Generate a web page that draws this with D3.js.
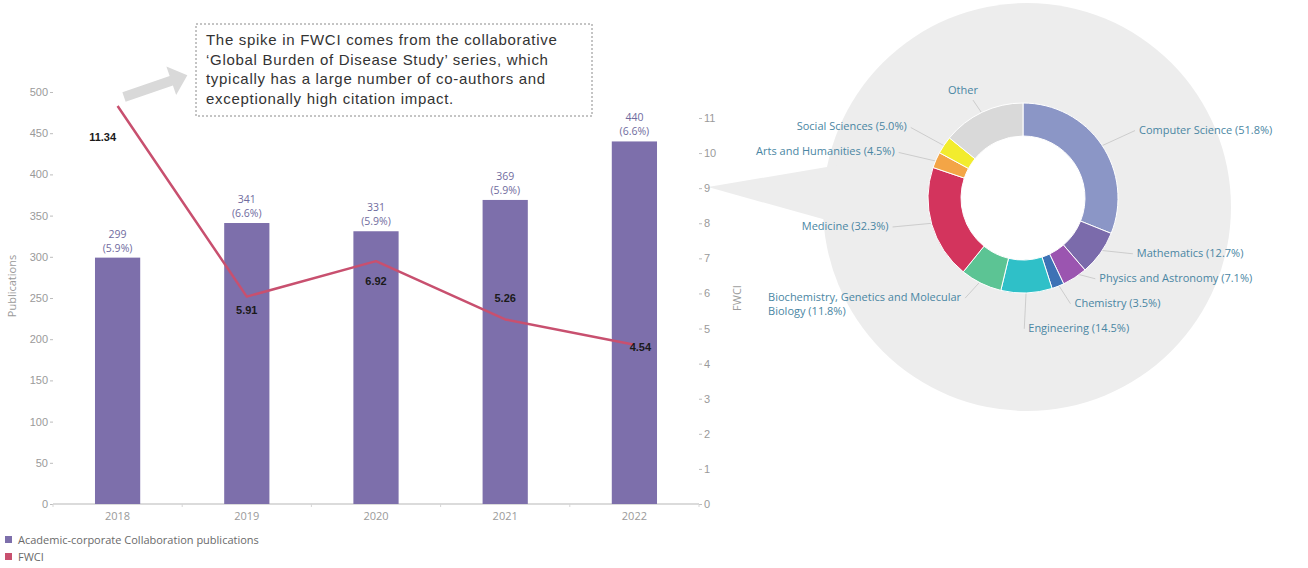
<!DOCTYPE html>
<html>
<head>
<meta charset="utf-8">
<script src="https://cdn.jsdelivr.net/npm/d3@7"></script>
<style>
    body { margin: 0; background: #ffffff; }
    svg { display: block; font-family: "Open Sans", sans-serif; }
</style>
</head>
<body>
<div id="chart"></div>
<script>
// ---- data ----
const years = ['2018', '2019', '2020', '2021', '2022'];
const publications = [299, 341, 331, 369, 440];
const publicationShares = ['5.9%', '6.6%', '5.9%', '5.9%', '6.6%'];
const fwci = [11.34, 5.91, 6.92, 5.26, 4.54];
const pubTicks = [0, 50, 100, 150, 200, 250, 300, 350, 400, 450, 500];
const fwciTicks = [0, 1, 2, 3, 4, 5, 6, 7, 8, 9, 10, 11];

const subjects = ['Computer Science', 'Mathematics', 'Physics and Astronomy', 'Chemistry', 'Engineering',
    'Biochemistry, Genetics and Molecular Biology', 'Medicine', 'Arts and Humanities', 'Social Sciences', 'Other'];
const subjectShares = [51.8, 12.7, 7.1, 3.5, 14.5, 11.8, 32.3, 4.5, 5.0, 23.5];
const subjectShareLabels = ['51.8%', '12.7%', '7.1%', '3.5%', '14.5%', '11.8%', '32.3%', '4.5%', '5.0%', null];
const subjectColors = ['#8b96c6', '#7b6bab', '#9b55b0', '#3e72b5', '#2fc0c8',
    '#5cc494', '#d3345d', '#f3a546', '#f2ec2e', '#d9d9d9'];

const legendItems = ['Academic-corporate Collaboration publications', 'FWCI'];
const annotationLines = [
    'The spike in FWCI comes from the collaborative',
    '\u2018Global Burden of Disease Study\u2019 series, which',
    'typically has a large number of co-authors and',
    'exceptionally high citation impact.'
];

const barColor = '#7d6fab';
const lineColor = '#c8506f';

const width = 1308, height = 568;
const svg = d3.select('#chart').append('svg')
    .attr('width', width)
    .attr('height', height);

// ---- donut backdrop (grey bubble with a pointer towards the FWCI axis) ----
const donut = { cx: 1023, cy: 198, inner: 62, outer: 95 };
const bubble = { cx: donut.cx + 4, cy: donut.cy + 9, r: 204 };

svg.append('circle')
    .attr('cx', bubble.cx).attr('cy', bubble.cy).attr('r', bubble.r)
    .attr('fill', '#ededed');

const tip = [bubble.cx - 319, bubble.cy - 20];
svg.append('path')
    .attr('d', d3.line()([tip, [bubble.cx - 147, bubble.cy - 49], [bubble.cx - 147, bubble.cy + 28]]) + 'Z')
    .attr('fill', '#ededed');

// ---- left chart: bars + FWCI line ----
const plot = { left: 53, right: 699, top: 92, bottom: 504 };

const x = d3.scaleBand()
    .domain(years)
    .range([plot.left, plot.right])
    .paddingInner(0.65)
    .paddingOuter(0.325);

const yPub = d3.scaleLinear().domain([0, 500]).range([plot.bottom, plot.top]);
const yFwci = d3.scaleLinear().domain([0, 11.74]).range([plot.bottom, plot.top]);

const styleAxis = g => {
    g.select('.domain').remove();
    g.selectAll('line').attr('stroke', '#bdbdbd');
    g.selectAll('text').attr('fill', '#9a9a9a').style('font-size', '11px');
};

svg.append('g')
    .attr('transform', `translate(${plot.left},0)`)
    .call(d3.axisLeft(yPub).tickValues(pubTicks).tickSize(3).tickPadding(2))
    .call(styleAxis);

svg.append('g')
    .attr('transform', `translate(${plot.right},0)`)
    .call(d3.axisRight(yFwci).tickValues(fwciTicks).tickSize(3).tickPadding(2))
    .call(styleAxis);

// x axis baseline with small ticks at the band boundaries
svg.append('line')
    .attr('x1', plot.left).attr('x2', plot.right)
    .attr('y1', plot.bottom).attr('y2', plot.bottom)
    .attr('stroke', '#cfcfcf').attr('stroke-width', 1.5);

svg.append('g').selectAll('line')
    .data(d3.range(years.length + 1))
    .join('line')
    .attr('x1', i => plot.left + i * x.step())
    .attr('x2', i => plot.left + i * x.step())
    .attr('y1', plot.bottom).attr('y2', plot.bottom + 3)
    .attr('stroke', '#d6d6d6');

svg.append('g').selectAll('text')
    .data(years)
    .join('text')
    .attr('x', d => x(d) + x.bandwidth() / 2)
    .attr('y', plot.bottom + 16)
    .attr('text-anchor', 'middle')
    .attr('fill', '#9a9a9a')
    .style('font-size', '11px')
    .text(d => d);

svg.append('text')
    .attr('transform', `translate(16,${(plot.top + plot.bottom) / 2 - 12}) rotate(-90)`)
    .attr('text-anchor', 'middle')
    .attr('fill', '#9a9a9a')
    .style('font-size', '11px')
    .text('Publications');

svg.append('text')
    .attr('transform', `translate(741,${(plot.top + plot.bottom) / 2}) rotate(-90)`)
    .attr('text-anchor', 'middle')
    .attr('fill', '#9a9a9a')
    .style('font-size', '11px')
    .text('FWCI');

const barData = years.map((year, i) => ({ year, value: publications[i], share: publicationShares[i], fwci: fwci[i] }));

svg.append('g').selectAll('rect')
    .data(barData)
    .join('rect')
    .attr('x', d => x(d.year))
    .attr('y', d => yPub(d.value))
    .attr('width', x.bandwidth())
    .attr('height', d => yPub(0) - yPub(d.value))
    .attr('fill', barColor);

const barLabels = svg.append('g')
    .attr('fill', '#706b9e')
    .attr('text-anchor', 'middle')
    .style('font-size', '10.5px');

barLabels.selectAll('.bar-value')
    .data(barData)
    .join('text')
    .attr('class', 'bar-value')
    .attr('x', d => x(d.year) + x.bandwidth() / 2)
    .attr('y', d => yPub(d.value) - 20)
    .text(d => d.value);

barLabels.selectAll('.bar-share')
    .data(barData)
    .join('text')
    .attr('class', 'bar-share')
    .attr('x', d => x(d.year) + x.bandwidth() / 2)
    .attr('y', d => yPub(d.value) - 6)
    .text(d => `(${d.share})`);

const fwciLine = d3.line()
    .x(d => x(d.year) + x.bandwidth() / 2)
    .y(d => yFwci(d.fwci));

svg.append('path')
    .datum(barData)
    .attr('d', fwciLine)
    .attr('fill', 'none')
    .attr('stroke', lineColor)
    .attr('stroke-width', 2.5)
    .attr('stroke-linejoin', 'round');

// label offsets relative to each line point, as placed in the original
const fwciLabelOffset = { '2018': [-15, 31], '2019': [0, 14], '2020': [0, 20], '2021': [0, -21], '2022': [6, 2] };

svg.append('g').selectAll('text')
    .data(barData)
    .join('text')
    .attr('x', d => x(d.year) + x.bandwidth() / 2 + fwciLabelOffset[d.year][0])
    .attr('y', d => yFwci(d.fwci) + fwciLabelOffset[d.year][1])
    .attr('dy', '0.35em')
    .attr('text-anchor', 'middle')
    .attr('fill', '#1a1a1a')
    .style('font-family', '"Liberation Sans", Arial, sans-serif')
    .style('font-weight', 'bold')
    .style('font-size', '11px')
    .text(d => d.fwci.toFixed(2));

// ---- annotation box with grey arrow ----
const note = { x: 196, y: 24, w: 396, h: 92 };
svg.append('rect')
    .attr('x', note.x).attr('y', note.y)
    .attr('width', note.w).attr('height', note.h)
    .attr('fill', 'none')
    .attr('stroke', '#8a8a8a')
    .attr('stroke-width', 1)
    .attr('stroke-dasharray', '2,2');

svg.append('g').selectAll('text')
    .data(annotationLines)
    .join('text')
    .attr('x', note.x + 10)
    .attr('y', (d, i) => note.y + 21 + i * 19.5)
    .attr('fill', '#333333')
    .style('font-family', '"Liberation Sans", Arial, sans-serif')
    .style('font-size', '15px')
    .style('letter-spacing', '0.7px')
    .text(d => d);

// block arrow pointing at the box
const arrowShape = [[0, -5], [50, -5], [50, -15], [67, 0], [50, 15], [50, 5], [0, 5]];
svg.append('path')
    .attr('d', d3.line()(arrowShape) + 'Z')
    .attr('transform', `translate(${note.x - 72},${note.y + 73}) rotate(-19)`)
    .attr('fill', '#d9d9d9');

// ---- donut chart ----
const pie = d3.pie().sort(null).value(d => d.value);
const arc = d3.arc().innerRadius(donut.inner).outerRadius(donut.outer);

const subjectData = subjects.map((name, i) => ({
    name, value: subjectShares[i], share: subjectShareLabels[i], color: subjectColors[i]
}));
const arcs = pie(subjectData);

const donutGroup = svg.append('g')
    .attr('transform', `translate(${donut.cx},${donut.cy})`);

// white hole in the middle of the ring
donutGroup.append('circle')
    .attr('r', donut.inner)
    .attr('fill', '#ffffff');

// label layout: elliptical placement around the donut, then relax vertical overlaps per side
const labelRx = 140, labelRy = 115, minGap = 25;
const labelNodes = arcs.map(a => {
    const mid = (a.startAngle + a.endAngle) / 2;
    const sx = Math.sin(mid), cy = -Math.cos(mid);
    let anchor = sx >= 0 ? 'start' : 'end';
    if (Math.cos(mid) > 0.85) anchor = 'middle';
    const text = a.data.share ? `${a.data.name} (${a.data.share})` : a.data.name;
    return { a, mid, anchor, text, x: labelRx * sx, y: labelRy * cy, side: sx >= 0 ? 'right' : 'left' };
});

['right', 'left'].forEach(side => {
    const nodes = labelNodes.filter(n => n.side === side).sort((p, q) => p.y - q.y);
    for (let iter = 0; iter < 30; iter++) {
        for (let i = 1; i < nodes.length; i++) {
            const gap = nodes[i].y - nodes[i - 1].y;
            if (gap < minGap) {
                const push = (minGap - gap) / 2;
                nodes[i].y += push;
                nodes[i - 1].y -= push;
            }
        }
    }
});

const wrapText = (str, maxChars) => {
    const words = str.split(' ');
    const lines = [];
    let current = '';
    words.forEach(w => {
        const next = current ? current + ' ' + w : w;
        if (next.length > maxChars && current) {
            lines.push(current);
            current = w;
        } else {
            current = next;
        }
    });
    lines.push(current);
    return lines;
};

const labelGroup = donutGroup.append('g')
    .attr('fill', '#4a86a3')
    .style('font-size', '11px');

labelNodes.forEach(n => {
    const lines = wrapText(n.text, 36);
    const t = labelGroup.append('text')
        .attr('y', n.y)
        .attr('dy', '0.35em');
    lines.forEach((line, i) => {
        t.append('tspan')
            .attr('x', 0)
            .attr('dy', i === 0 ? 0 : 14)
            .text(line);
    });
    if (lines.length > 1) {
        // multi-line labels are left aligned as a block
        const maxW = d3.max(t.selectAll('tspan').nodes(), s => s.getComputedTextLength());
        const startX = n.anchor === 'end' ? n.x - maxW : n.x;
        t.selectAll('tspan').attr('x', startX);
        t.attr('text-anchor', 'start');
    } else {
        t.attr('text-anchor', n.anchor).selectAll('tspan').attr('x', n.x);
    }

    // leader line from the ring edge to the label
    const r0 = donut.outer - 6;
    const p0 = [r0 * Math.sin(n.mid), -r0 * Math.cos(n.mid)];
    let p1;
    if (n.anchor === 'middle') p1 = [n.x + 10, n.y + 6];
    else if (n.anchor === 'start') p1 = [n.x - 4, n.y - 3];
    else p1 = [n.x + 4, n.y - 3];
    labelGroup.append('line')
        .attr('x1', p0[0]).attr('y1', p0[1])
        .attr('x2', p1[0]).attr('y2', p1[1])
        .attr('stroke', '#c4c4c4')
        .attr('stroke-width', 0.8);
});

donutGroup.selectAll('.slice')
    .data(arcs)
    .join('path')
    .attr('class', 'slice')
    .attr('d', arc)
    .attr('fill', d => d.data.color)
    .attr('stroke', '#ffffff')
    .attr('stroke-width', 1);

// ---- legend ----
const legendColors = [barColor, lineColor];
const legend = svg.append('g');
legend.selectAll('rect')
    .data(legendItems)
    .join('rect')
    .attr('x', 5)
    .attr('y', (d, i) => 536 + i * 17)
    .attr('width', 7).attr('height', 7)
    .attr('fill', (d, i) => legendColors[i]);

legend.selectAll('text')
    .data(legendItems)
    .join('text')
    .attr('x', 18)
    .attr('y', (d, i) => 540 + i * 17)
    .attr('dy', '0.35em')
    .attr('fill', '#6a6a6a')
    .style('font-size', '11px')
    .text(d => d);
</script>
</body>
</html>
